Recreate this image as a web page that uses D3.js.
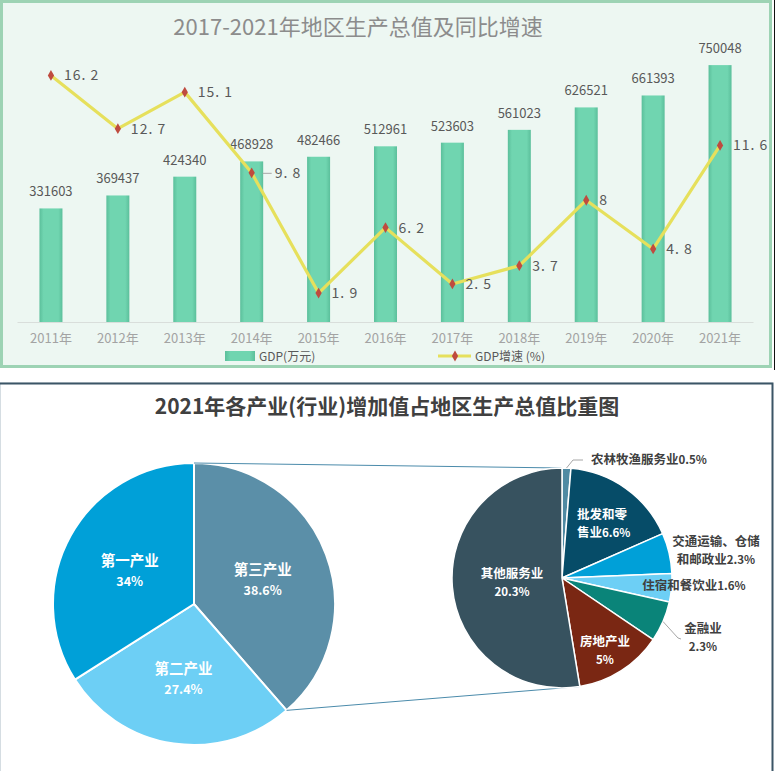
<!DOCTYPE html>
<html>
<head>
<meta charset="utf-8">
<script src="https://cdn.jsdelivr.net/npm/d3@7"></script>
<style>
  body { margin: 0; background: #fff; }
  text { font-family: "Noto Sans CJK SC", "Noto Sans", sans-serif; }
</style>
</head>
<body>
<div id="chart"></div>
<script>
// Data for the top chart
const years = ["2011年", "2012年", "2013年", "2014年", "2015年", "2016年", "2017年", "2018年", "2019年", "2020年", "2021年"];
const gdp = [331603, 369437, 424340, 468928, 482466, 512961, 523603, 561023, 626521, 661393, 750048];
const growth = [16.2, 12.7, 15.1, 9.8, 1.9, 6.2, 2.5, 3.7, 8, 4.8, 11.6];

// Data for the pie-of-pie
const industries = ["第三产业", "第二产业", "第一产业"];
const industryShare = [38.6, 27.4, 34];
const services = ["农林牧渔服务业", "批发和零售业", "交通运输、仓储和邮政业", "住宿和餐饮业", "金融业", "房地产业", "其他服务业"];
const serviceShare = [0.5, 6.6, 2.3, 1.6, 2.3, 5, 20.3];

const width = 775;
const height = 771;

const svg = d3
  .select("#chart")
  .append("svg")
  .attr("width", width)
  .attr("height", height);

const defs = svg.append("defs");
const grad = defs.append("linearGradient").attr("id", "barGrad");
grad.append("stop").attr("offset", "0%").attr("stop-color", "#5bbf9b");
grad.append("stop").attr("offset", "18%").attr("stop-color", "#70d5b0");
grad.append("stop").attr("offset", "82%").attr("stop-color", "#70d5b0");
grad.append("stop").attr("offset", "100%").attr("stop-color", "#5bbf9b");

// ---------- top panel ----------
svg
  .append("rect")
  .attr("x", 1.5)
  .attr("y", 1.5)
  .attr("width", 769)
  .attr("height", 365)
  .attr("fill", "#edf7f2")
  .attr("stroke", "#9dd3b4")
  .attr("stroke-width", 3);

svg
  .append("line")
  .attr("x1", 774.5).attr("x2", 774.5)
  .attr("y1", 0).attr("y2", 370)
  .attr("stroke", "#111")
  .attr("stroke-width", 1);

svg
  .append("text")
  .attr("x", 358)
  .attr("y", 35)
  .attr("text-anchor", "middle")
  .attr("font-size", 22)
  .attr("fill", "#8c8c8c")
  .text("2017-2021年地区生产总值及同比增速");

const x = d3.scaleBand().domain(years).range([17.5, 753.5]);
const yBar = d3.scaleLinear().domain([0, 800000]).range([322, 48]);
const yLine = d3.scaleLinear().domain([0, 18]).range([322, 48]);
const barW = 23;

// baseline
svg
  .append("line")
  .attr("x1", 17.5).attr("x2", 753.5)
  .attr("y1", 322.5).attr("y2", 322.5)
  .attr("stroke", "#d9dedb")
  .attr("stroke-width", 1);

// category labels
svg
  .selectAll("text.year")
  .data(years)
  .enter()
  .append("text")
  .attr("class", "year")
  .attr("x", (d) => x(d) + x.bandwidth() / 2)
  .attr("y", 343)
  .attr("text-anchor", "middle")
  .attr("font-size", 13)
  .attr("fill", "#a3a3a3")
  .text((d) => d);

// bars
svg
  .selectAll("rect.bar")
  .data(gdp)
  .enter()
  .append("rect")
  .attr("class", "bar")
  .attr("x", (d, i) => x(years[i]) + x.bandwidth() / 2 - barW / 2)
  .attr("y", (d) => yBar(d))
  .attr("width", barW)
  .attr("height", (d) => yBar(0) - yBar(d))
  .attr("fill", "url(#barGrad)");

svg
  .selectAll("text.barlabel")
  .data(gdp)
  .enter()
  .append("text")
  .attr("class", "barlabel")
  .attr("x", (d, i) => x(years[i]) + x.bandwidth() / 2)
  .attr("y", (d) => yBar(d) - 12)
  .attr("text-anchor", "middle")
  .attr("font-size", 13)
  .attr("fill", "#595959")
  .text((d) => d);

// growth line
const line = d3
  .line()
  .x((d, i) => x(years[i]) + x.bandwidth() / 2)
  .y((d) => yLine(d));

svg
  .append("path")
  .datum(growth)
  .attr("d", line)
  .attr("fill", "none")
  .attr("stroke", "#e6e05c")
  .attr("stroke-width", 3.2)
  .attr("stroke-linejoin", "round");

const diamond = d3.symbol().type(d3.symbolDiamond).size(34);

svg
  .selectAll("path.marker")
  .data(growth)
  .enter()
  .append("path")
  .attr("class", "marker")
  .attr("d", diamond)
  .attr("transform", (d, i) => `translate(${x(years[i]) + x.bandwidth() / 2},${yLine(d)})`)
  .attr("fill", "#bf4b3f");

// 9.8 label sits a bit further out with a leader
const labelShift = growth.map((d, i) => (i === 3 ? 23 : 13));

svg
  .append("line")
  .attr("x1", x(years[3]) + x.bandwidth() / 2 + 11)
  .attr("x2", x(years[3]) + x.bandwidth() / 2 + 20)
  .attr("y1", yLine(growth[3]) + 0.5)
  .attr("y2", yLine(growth[3]) + 0.5)
  .attr("stroke", "#a6a6a6");

svg
  .selectAll("text.growth")
  .data(growth)
  .enter()
  .append("text")
  .attr("class", "growth")
  .attr("x", (d, i) => x(years[i]) + x.bandwidth() / 2 + labelShift[i])
  .attr("y", (d) => yLine(d) + 5)
  .attr("font-size", 14)
  .attr("letter-spacing", 1)
  .attr("fill", "#595959")
  .text((d) => String(d).replace(".", ". "));

// legend
svg
  .append("rect")
  .attr("x", 225).attr("y", 351)
  .attr("width", 30).attr("height", 10)
  .attr("fill", "url(#barGrad)");
svg
  .append("text")
  .attr("x", 259).attr("y", 361)
  .attr("font-size", 12)
  .attr("fill", "#595959")
  .text("GDP(万元)");

svg
  .append("line")
  .attr("x1", 438).attr("x2", 471)
  .attr("y1", 356).attr("y2", 356)
  .attr("stroke", "#e6e05c")
  .attr("stroke-width", 3);
svg
  .append("path")
  .attr("d", diamond)
  .attr("transform", "translate(455,356)")
  .attr("fill", "#bf4b3f");
svg
  .append("text")
  .attr("x", 475).attr("y", 361)
  .attr("font-size", 12)
  .attr("fill", "#595959")
  .text("GDP增速 (%)");

// ---------- bottom panel ----------
svg
  .append("rect")
  .attr("x", 0.5).attr("y", 383)
  .attr("width", 772).attr("height", 392)
  .attr("fill", "#fff")
  .attr("stroke", "#d5dde2")
  .attr("stroke-width", 1);
svg
  .append("path")
  .attr("d", "M0,383.5H772.5V771")
  .attr("fill", "none")
  .attr("stroke", "#3b5566")
  .attr("stroke-width", 2);

svg
  .append("text")
  .attr("x", 387)
  .attr("y", 414)
  .attr("text-anchor", "middle")
  .attr("font-size", 21)
  .attr("font-weight", "bold")
  .attr("fill", "#404040")
  .text("2021年各产业(行业)增加值占地区生产总值比重图");

const pie = d3.pie().sort(null).value((d) => d);

// main pie
const c1 = { x: 194, y: 604 };
const r1 = 141;
const arc1 = d3.arc().innerRadius(0).outerRadius(r1);
const mainColors = ["#5b8fa8", "#6dcff5", "#00a0d8"];
const mainArcs = pie(industryShare);

const g1 = svg.append("g").attr("transform", `translate(${c1.x},${c1.y})`);
g1.selectAll("path")
  .data(mainArcs)
  .enter()
  .append("path")
  .attr("d", arc1)
  .attr("fill", (d, i) => mainColors[i])
  .attr("stroke", "#fff")
  .attr("stroke-width", 2);

const labelArc1 = d3.arc().innerRadius(r1 * 0.52).outerRadius(r1 * 0.52);
mainArcs.forEach((d, i) => {
  const [lx, ly] = labelArc1.centroid(d);
  g1.append("text")
    .attr("x", lx).attr("y", ly - 3)
    .attr("text-anchor", "middle")
    .attr("fill", "#fff")
    .attr("font-weight", "bold")
    .attr("font-size", 14.5)
    .text(industries[i]);
  g1.append("text")
    .attr("x", lx).attr("y", ly + 17)
    .attr("text-anchor", "middle")
    .attr("fill", "#fff")
    .attr("font-weight", "bold")
    .attr("font-size", 12.5)
    .text(industryShare[i] + "%");
});

// secondary pie
const c2 = { x: 562, y: 578 };
const r2 = 110;
const arc2 = d3.arc().innerRadius(0).outerRadius(r2);
const subColors = ["#4f8aa3", "#064c68", "#00a0d8", "#6dcff5", "#0a8479", "#7a2713", "#37525f"];
const subArcs = pie(serviceShare);

// connector lines
const split = mainArcs[0];
const p1 = [c1.x + r1 * Math.sin(split.startAngle), c1.y - r1 * Math.cos(split.startAngle)];
const p2 = [c1.x + r1 * Math.sin(split.endAngle), c1.y - r1 * Math.cos(split.endAngle)];
const q1 = [c2.x + r2 * Math.sin(subArcs[0].startAngle), c2.y - r2 * Math.cos(subArcs[0].startAngle)];
const q2 = [c2.x + r2 * Math.sin(subArcs[6].startAngle), c2.y - r2 * Math.cos(subArcs[6].startAngle)];
svg
  .append("path")
  .attr("d", `M${p1[0]},${p1[1]}L${q1[0]},${q1[1]}M${p2[0]},${p2[1]}L${q2[0]},${q2[1]}`)
  .attr("fill", "none")
  .attr("stroke", "#4b8bab")
  .attr("stroke-width", 1);

const g2 = svg.append("g").attr("transform", `translate(${c2.x},${c2.y})`);
g2.selectAll("path")
  .data(subArcs)
  .enter()
  .append("path")
  .attr("d", arc2)
  .attr("fill", (d, i) => subColors[i])
  .attr("stroke", "#fff")
  .attr("stroke-width", 1.5);

// label text lines and offsets (relative to the second pie's centre)
const subLabels = [
  { lines: ["农林牧渔服务业0.5%"], dx: 29, dy: -114, anchor: "start", color: "#404040" },
  { lines: ["批发和零", "售业6.6%"], dx: 15, dy: -59, anchor: "start", color: "#fff" },
  { lines: ["交通运输、仓储", "和邮政业2.3%"], dx: 154, dy: -32, anchor: "middle", color: "#404040" },
  { lines: ["住宿和餐饮业1.6%"], dx: 132, dy: 12, anchor: "middle", color: "#404040" },
  { lines: ["金融业", "2.3%"], dx: 141, dy: 55, anchor: "middle", color: "#404040" },
  { lines: ["房地产业", "5%"], dx: 43, dy: 68, anchor: "middle", color: "#fff" },
  { lines: ["其他服务业", "20.3%"], dx: -50, dy: 0, anchor: "middle", color: "#fff" },
];
const lineGap = 17.5;

subLabels.forEach((l) => {
  l.lines.forEach((s, k) => {
    const t = g2
      .append("text")
      .attr("x", l.dx)
      .attr("y", l.dy + k * lineGap)
      .attr("text-anchor", l.anchor)
      .attr("fill", l.color)
      .attr("font-weight", "bold")
      .attr("font-size", 12.5);
    // numbers are drawn a touch smaller
    const m = s.match(/^(.*?)([\d.]+%)$/);
    if (m) {
      if (m[1]) t.append("tspan").text(m[1]);
      t.append("tspan").attr("font-size", 11.5).text(m[2]);
    } else {
      t.text(s);
    }
  });
});

// leader lines for the outside labels
const lead = (a, pts) => {
  const ang = (a.startAngle + a.endAngle) / 2;
  const s = [r2 * Math.sin(ang), -r2 * Math.cos(ang)];
  g2.append("path")
    .attr("d", "M" + [s].concat(pts).map((p) => p.join(",")).join("L"))
    .attr("fill", "none")
    .attr("stroke", "#a6a6a6")
    .attr("stroke-width", 1);
};
lead(subArcs[0], [[11, -118], [21, -118]]);
lead(subArcs[4], [[116, 60], [119, 61]]);
</script>
</body>
</html>
